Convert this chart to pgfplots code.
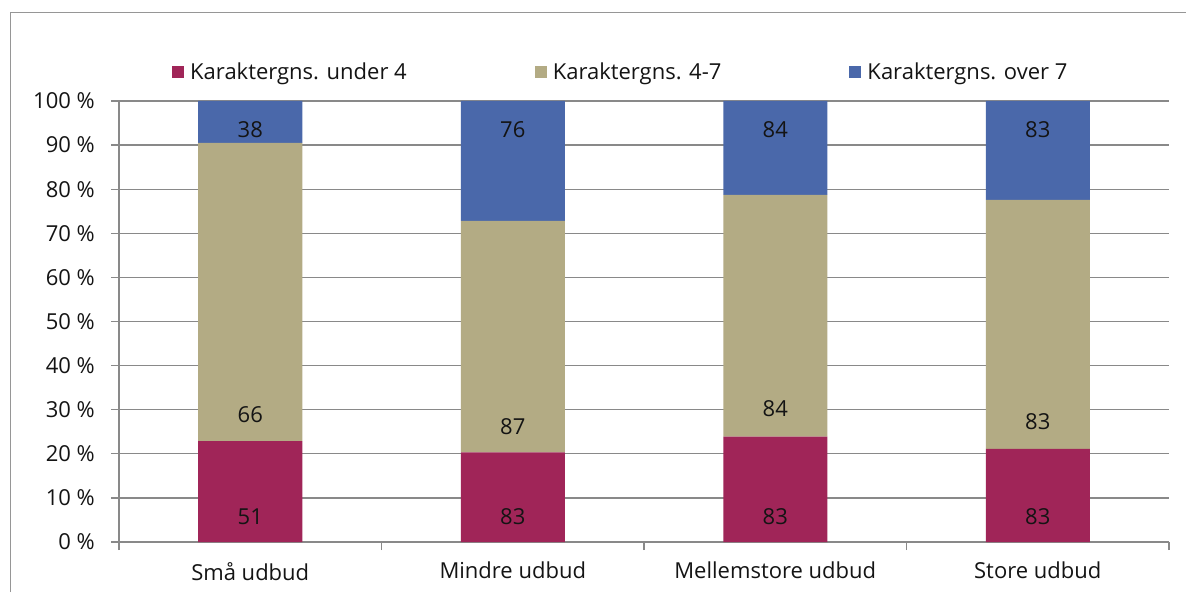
\documentclass[border=0pt]{standalone}
\usepackage{fontspec}
\setmainfont{Open Sans}
\usepackage{pgfplots}
\pgfplotsset{compat=1.18}
\definecolor{cred}{RGB}{160,37,88}
\definecolor{ctan}{RGB}{179,171,132}
\definecolor{cblue}{RGB}{74,104,170}
\definecolor{cgrid}{RGB}{137,137,137}
\definecolor{cframe}{RGB}{150,150,150}
\definecolor{ctext}{RGB}{20,20,20}
\newcommand{\cf}{\fontsize{22}{26}\selectfont}
\pgfplotsset{sqlegend/.style={legend image code/.code={\draw[##1,/tikz/.cd,draw=none] (0pt,-6pt) rectangle (12pt,6pt);}}}

\pgfplotstableread{
x  red   tan   blue
0  22.9  67.6  9.5
1  20.3  52.5  27.2
2  23.9  54.8  21.3
3  21.1  56.5  22.4
}\bars

\begin{document}
\begin{tikzpicture}
\useasboundingbox (0pt,0pt) rectangle (1186pt,592pt);
\draw[cframe, line width=1pt] (10pt,0pt) -- (10pt,579pt) -- (1186pt,579pt);
\begin{axis}[
  at={(119pt,50pt)}, anchor=south west,
  scale only axis, width=1050pt, height=441pt,
  ybar stacked, bar width=104pt,
  xmin=-0.5, xmax=3.5, ymin=0, ymax=100,
  axis x line*=bottom, axis y line*=left,
  axis line style={-, draw=cgrid, line width=1.2pt},
  xtick={-0.5,0.5,1.5,2.5,3.5}, x tick label as interval,
  xticklabels={Små udbud,Mindre udbud,Mellemstore udbud,Store udbud},
  ytick={0,10,...,100},
  yticklabels={0 \%,10 \%,20 \%,30 \%,40 \%,50 \%,60 \%,70 \%,80 \%,90 \%,100 \%},
  tick align=outside, major tick length=8pt,
  tick style={draw=cgrid, line width=1.2pt},
  ymajorgrids, grid style={draw=cgrid, line width=1.2pt},
  tick label style={font=\cf, text=ctext},
  yticklabel style={anchor=east, inner sep=0pt, xshift=-16pt},
  xticklabel style={anchor=north, inner sep=0pt, yshift=-12pt},
  legend columns=3,
  legend style={at={(0.0505,1.0658)}, anchor=west, draw=none, fill=none,
    inner sep=0pt, font=\cf, text=ctext, nodes={inner sep=0pt},
    /tikz/every odd column/.append style={column sep=6pt},
    /tikz/every even column/.append style={column sep=128pt}},
  legend cell align=left,
]
\addplot[fill=cred, draw=none, sqlegend] table[x=x, y=red] {\bars};
\addlegendentry{Karaktergns. under 4}
\addplot[fill=ctan, draw=none, sqlegend] table[x=x, y=tan] {\bars};
\addlegendentry{Karaktergns. 4-7}
\addplot[fill=cblue, draw=none, sqlegend] table[x=x, y=blue] {\bars};
\addlegendentry{Karaktergns. over 7}
\end{axis}
\begin{axis}[
  at={(119pt,50pt)}, anchor=south west,
  scale only axis, width=1050pt, height=441pt,
  xmin=-0.5, xmax=3.5, ymin=0, ymax=100,
  hide axis, clip=false,
]
\addplot[only marks, mark=none, nodes near coords, point meta=explicit symbolic,
  nodes near coords align={center},
  every node near coord/.append style={font=\cf, text=ctext, inner sep=0pt, anchor=center}]
  table[meta=lab] {
x y lab
0 5.8 51
0 28.8 66
0 93.6 38
1 5.8 83
1 26.1 87
1 93.6 76
2 5.8 83
2 30.2 84
2 93.6 84
3 5.8 83
3 27.2 83
3 93.6 83
};
\end{axis}
\end{tikzpicture}
\end{document}
